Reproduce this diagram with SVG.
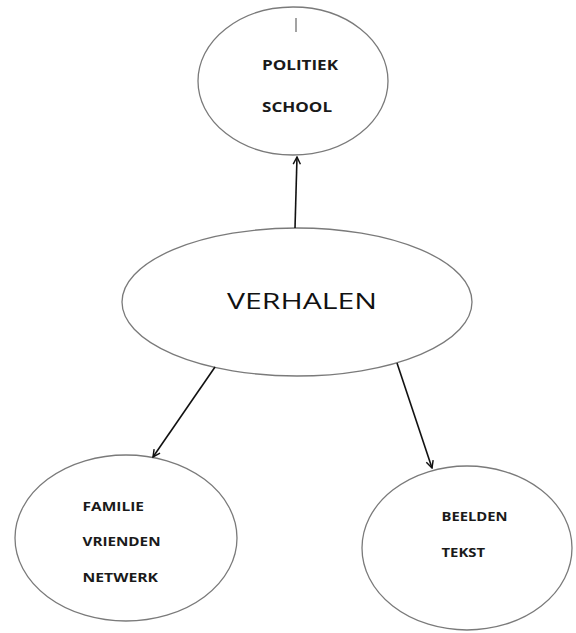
<svg xmlns="http://www.w3.org/2000/svg" width="576" height="633" viewBox="0 0 576 633">
<defs>
<style>
.node{fill:#fff;stroke:#7a7a7a;stroke-width:1.3}
.lbl{font-family:"Open Sans","Liberation Sans",sans-serif;font-weight:700;fill:#1a1a1a}
.edge{stroke:#111;stroke-width:1.6;fill:none}
</style>
<marker id="arr" viewBox="0 0 10 10" refX="9" refY="5" markerWidth="9" markerHeight="9" orient="auto" markerUnits="userSpaceOnUse">
<path d="M1,1 L9,5 L1,9" fill="none" stroke="#111" stroke-width="1.6"/>
</marker>
</defs>
<rect width="576" height="633" fill="#fff"/>
<g id="politiek">
<ellipse class="node" cx="293" cy="81" rx="95" ry="74"/>
<line x1="296" y1="18" x2="296" y2="32" stroke="#666" stroke-width="1.2"/>
<text class="lbl" x="262" y="70" font-size="14.5" textLength="76" lengthAdjust="spacingAndGlyphs">POLITIEK</text>
<text class="lbl" x="262" y="111.5" font-size="14.5" textLength="70" lengthAdjust="spacingAndGlyphs">SCHOOL</text>
</g>
<g id="verhalen">
<ellipse class="node" cx="297" cy="302" rx="175" ry="74"/>
<text x="227" y="309" font-size="22.5" font-weight="500" font-family="Open Sans, Liberation Sans, sans-serif" fill="#111" textLength="150" lengthAdjust="spacingAndGlyphs">VERHALEN</text>
</g>
<g id="familie">
<ellipse class="node" cx="126" cy="538" rx="111" ry="83"/>
<text class="lbl" x="82.5" y="510.5" font-size="12.5" textLength="61.5" lengthAdjust="spacingAndGlyphs">FAMILIE</text>
<text class="lbl" x="82.5" y="545.5" font-size="12.5" textLength="78" lengthAdjust="spacingAndGlyphs">VRIENDEN</text>
<text class="lbl" x="82.5" y="581.5" font-size="12.5" textLength="75.5" lengthAdjust="spacingAndGlyphs">NETWERK</text>
</g>
<g id="beelden">
<ellipse class="node" cx="467" cy="548" rx="105" ry="82"/>
<text class="lbl" x="441.5" y="520.5" font-size="12.5" textLength="66" lengthAdjust="spacingAndGlyphs">BEELDEN</text>
<text class="lbl" x="441.5" y="556.5" font-size="12.5" textLength="43.5" lengthAdjust="spacingAndGlyphs">TEKST</text>
</g>
<g id="connectors">
<line class="edge" x1="295" y1="228" x2="297" y2="157" marker-end="url(#arr)"/>
<line class="edge" x1="215" y1="367" x2="153" y2="457" marker-end="url(#arr)"/>
<line class="edge" x1="397" y1="363" x2="432" y2="468" marker-end="url(#arr)"/>
</g>
</svg>
